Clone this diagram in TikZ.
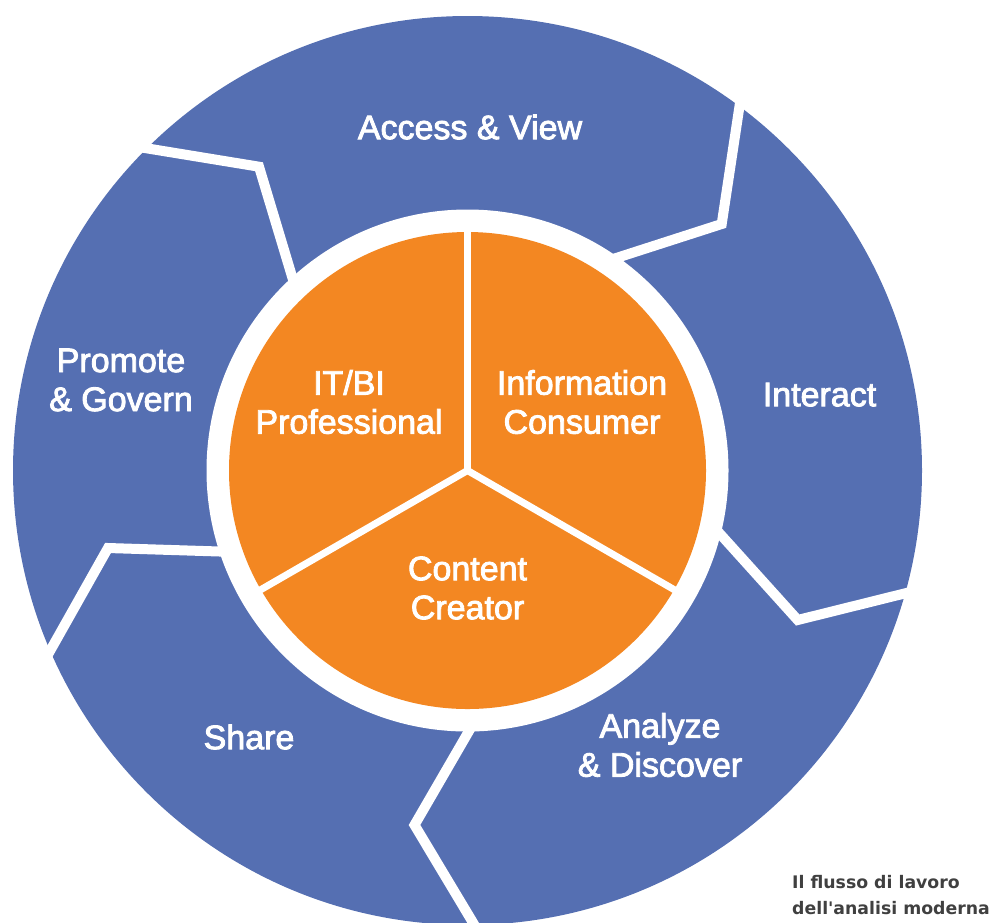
\documentclass[tikz,border=0pt]{standalone}
\usepackage{fontspec}
\setmainfont{Liberation Sans}[FakeBold=2.5]
\newfontfamily\capfont[Ligatures=TeXOff]{DejaVu Sans}
\definecolor{ringblue}{RGB}{85,111,178}
\definecolor{roleorange}{RGB}{243,135,34}
\definecolor{captiongray}{RGB}{64,64,64}
\begin{document}
\begin{tikzpicture}[x=1pt,y=-1pt,
  sepline/.style={white, line width=10pt, line join=miter},
  yline/.style={white, line width=7pt},
  lab/.style={text=white, font=\fontsize{34}{39}\selectfont, align=center, inner sep=0pt}]
\useasboundingbox (0,0) rectangle (995,922);
\clip (0,0) rectangle (995,922);
\coordinate (C) at (467.5,470.5);
% outer blue disc
\fill[ringblue] (C) circle[radius=454.5];
% separators between the workflow stages
\coordinate (s1a) at (124,144.6);  \coordinate (s1b) at (259,166.7); \coordinate (s1c) at (300,303);
\coordinate (s2a) at (743,83);     \coordinate (s2b) at (721.7,224); \coordinate (s2c) at (597,264.2);
\coordinate (s3a) at (705.7,518);  \coordinate (s3b) at (797.7,620); \coordinate (s3c) at (926.5,588);
\coordinate (s4a) at (38.4,671.6); \coordinate (s4b) at (108,548);   \coordinate (s4c) at (242,552.2);
\coordinate (s5a) at (480,712);    \coordinate (s5b) at (414.5,825); \coordinate (s5c) at (490,951);
\draw[sepline] (s1a) -- (s1b) -- (s1c);
\draw[sepline] (s2a) -- (s2b) -- (s2c);
\draw[sepline] (s3a) -- (s3b) -- (s3c);
\draw[sepline] (s4a) -- (s4b) -- (s4c);
\draw[sepline] (s5a) -- (s5b) -- (s5c);
% white ring and orange core
\fill[white] (C) circle[radius=261];
\fill[roleorange] (C) circle[radius=238.5];
\coordinate (yup) at (467.5,225);
\coordinate (yleft) at (255,593);
\coordinate (yright) at (680,593);
\draw[yline] (C) -- (yup);
\draw[yline] (C) -- (yleft);
\draw[yline] (C) -- (yright);
% labels
\node[lab] (access) at (470,127) {Access \& View};
\node[lab] (promote) at (121,380) {Promote\\\& Govern};
\node[lab] (interact) at (819.5,394.7) {Interact};
\node[lab] (analyze) at (660,745) {Analyze\\\& Discover};
\node[lab] (share) at (249,737) {Share};
\node[lab] (itbi) at (349,402) {IT/BI\\Professional};
\node[lab] (info) at (582,402) {Information\\Consumer};
\node[lab] (content) at (467.5,588) {Content\\Creator};
\node[font=\capfont\bfseries\fontsize{17.3}{26}\selectfont, text=captiongray, align=left, anchor=south west, inner sep=0pt] (caption) at (792,915) {Il flusso di lavoro\\dell'analisi moderna};
\end{tikzpicture}
\end{document}
